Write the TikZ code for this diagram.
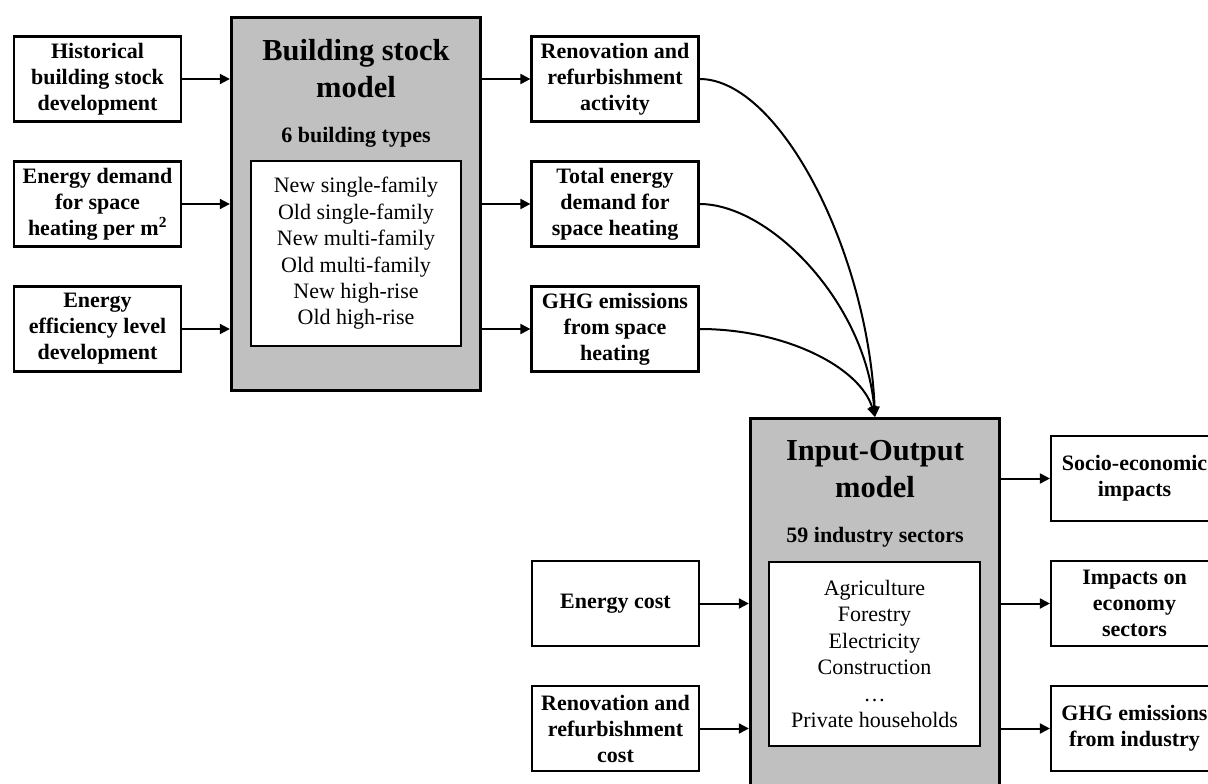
\documentclass[tikz,border=0pt]{standalone}
\usepackage{fontspec}
\setmainfont{Liberation Serif}
\usetikzlibrary{arrows.meta}
\definecolor{modelgray}{RGB}{192,192,192}
\begin{document}
\begin{tikzpicture}[x=1pt,y=-1pt,
  box/.style={draw,line width=2.2pt,fill=white,minimum width=167pt,minimum height=85pt,inner sep=0pt,align=center,font=\fontsize{22}{26}\selectfont\bfseries},
  model/.style={draw,line width=3.3pt,fill=modelgray,minimum width=249pt,minimum height=373pt,inner sep=0pt},
  listbox/.style={draw,line width=2.2pt,fill=white,inner sep=0pt,align=center,font=\fontsize{22}{26.4}\selectfont},
  title/.style={anchor=base,inner sep=0pt,font=\fontsize{30.5}{36}\selectfont\bfseries},
  subtitle/.style={anchor=base,inner sep=0pt,font=\fontsize{22}{26}\selectfont\bfseries},
  arr/.style={line width=2pt,-{Triangle[length=10pt,width=10pt]}},
]
\clip (0,0) rectangle (1208,784);
\fill[white] (0,0) rectangle (1208,784);

% Building stock model
\node[model] (bsm) at (356,204) {};
\node[title] (bsmt1) at (356,61) {Building stock};
\node[title] (bsmt2) at (356,98) {model};
\node[subtitle] (bsms) at (356,142) {6 building types};
\node[listbox,minimum width=210pt,minimum height=185pt] (bsml) at (356,253.5)
  {New single-family\\Old single-family\\New multi-family\\Old multi-family\\New high-rise\\Old high-rise};

% Input-Output model
\node[model] (io) at (875,605) {};
\node[title] (iot1) at (875,460) {Input-Output};
\node[title] (iot2) at (875,497) {model};
\node[subtitle] (ios) at (875,542) {59 industry sectors};
\node[listbox,minimum width=211pt,minimum height=184pt] (iol) at (874.5,654)
  {Agriculture\\Forestry\\Electricity\\Construction\\\dots\\Private households};

% left inputs
\node[box] (hist) at (97.5,79) {Historical\\building stock\\development};
\node[box] (dem) at (97.5,204) {Energy demand\\for space\\heating per m\textsuperscript{2}};
\node[box] (eff) at (97.5,329) {Energy\\efficiency level\\development};

% middle outputs
\node[box] (reno) at (615,79) {Renovation and\\refurbishment\\activity};
\node[box] (tot) at (615,204) {Total energy\\demand for\\space heating};
\node[box] (ghg) at (615,329) {GHG emissions\\from space\\heating};

% IO inputs
\node[box] (ecost) at (615.5,603.5) {Energy cost};
\node[box] (rcost) at (615.5,728.5) {Renovation and\\refurbishment\\cost};

% IO outputs
\node[box] (socio) at (1134.5,478.5) {Socio-economic\\impacts};
\node[box] (econ) at (1134.5,603.5) {Impacts on\\economy\\sectors};
\node[box] (ghgi) at (1134.5,728.5) {GHG emissions\\from industry};

% arrows
\draw[arr] (hist) -- (hist -| bsm.west);
\draw[arr] (dem) -- (dem -| bsm.west);
\draw[arr] (eff) -- (eff -| bsm.west);
\draw[arr] (reno -| bsm.east) -- (reno.west);
\draw[arr] (tot -| bsm.east) -- (tot.west);
\draw[arr] (ghg -| bsm.east) -- (ghg.west);
\draw[arr] (ecost) -- (ecost -| io.west);
\draw[arr] (rcost) -- (rcost -| io.west);
\draw[arr] (socio -| io.east) -- (socio.west);
\draw[arr] (econ -| io.east) -- (econ.west);
\draw[arr] (ghgi -| io.east) -- (ghgi.west);

\draw[arr] (reno.east) .. controls +(80,0) and +(-7,-165) .. (io.north);
\draw[arr] (tot.east) .. controls +(70,0) and +(-10,-115) .. (io.north);
\draw[arr] (ghg.east) .. controls +(85,0) and +(-15,-50) .. (io.north);
\end{tikzpicture}
\end{document}
